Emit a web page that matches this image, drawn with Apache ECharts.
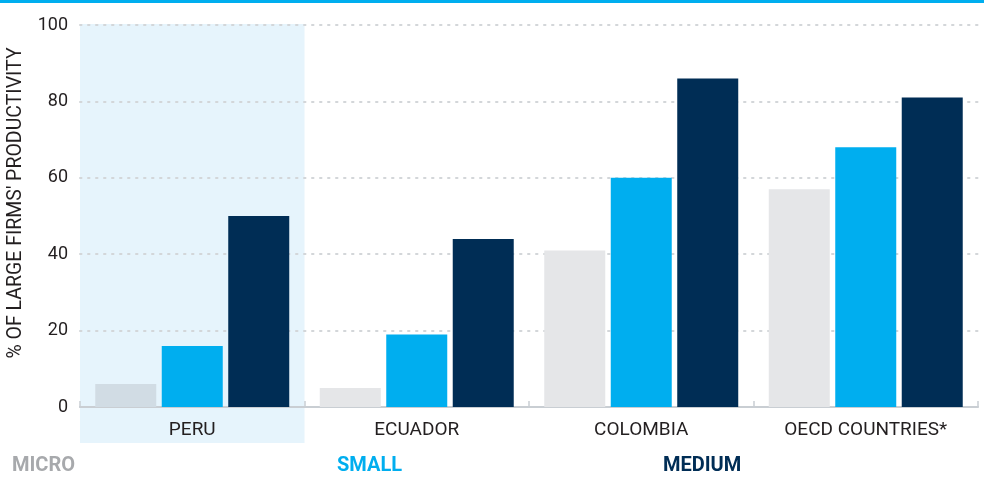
<!DOCTYPE html>
<html>
<head>
<meta charset="utf-8">
<script src="https://cdn.jsdelivr.net/npm/echarts@6/dist/echarts.min.js"></script>
<style>
html,body{margin:0;padding:0;background:#fff;}
#chart{width:984px;height:480px;}
</style>
</head>
<body>
<div id="chart"></div>
<script>
var categories = ['PERU', 'ECUADOR', 'COLOMBIA', 'OECD COUNTRIES*'];
var microValues = [6, 5, 41, 57];
var smallValues = [16, 19, 60, 68];
var mediumValues = [50, 44, 86, 81];
var yTicks = [0, 20, 40, 60, 80, 100];

var FONT = "Roboto, 'Noto Sans', sans-serif";
var C_MICRO = '#E5E6E8', C_MICRO_HL = '#D1DCE4', C_SMALL = '#00AEEF', C_MED = '#002D55';

var chart = echarts.init(document.getElementById('chart'), null, {renderer: 'canvas'});

function legendAt(left, name, color) {
  return {
    left: left, top: 456, icon: 'none', itemWidth: 0, itemHeight: 0, itemGap: 0,
    selectedMode: false, padding: 0,
    data: [{name: name, textStyle: {color: color}}],
    textStyle: {fontFamily: FONT, fontSize: 20, fontWeight: 'bold', padding: 0}
  };
}

var option = {
  animation: false,
  backgroundColor: '#fff',
  grid: {left: 80, right: 6, top: 25, bottom: 73, containLabel: false, outerBoundsMode: 'none'},
  xAxis: {
    type: 'category',
    data: categories,
    axisLine: {show: true, lineStyle: {color: '#C9CED3', width: 2}},
    axisTick: {show: true, inside: true, length: 6, lineStyle: {color: '#C9CED3', width: 1.5}},
    axisLabel: {interval: 0, fontFamily: FONT, fontSize: 19, color: '#231F20', margin: 14}
  },
  yAxis: {
    type: 'value', min: 0, max: 100, interval: 20,
    name: "% OF LARGE FIRMS' PRODUCTIVITY",
    nameLocation: 'middle', nameGap: 54,
    nameTextStyle: {fontFamily: FONT, fontSize: 19.5, color: '#231F20', padding: [0, 0, 0, 26]},
    axisLine: {show: false}, axisTick: {show: false},
    axisLabel: {fontFamily: FONT, fontSize: 18, color: '#231F20', margin: 12,
      formatter: function (v) { return yTicks.indexOf(v) >= 0 ? String(v) : ''; }},
    splitLine: {show: true, lineStyle: {color: '#D3D6D9', width: 2, type: [1.5, 6.5], cap: 'round'}}
  },
  legend: [
    legendAt(7, 'MICRO', '#A7A9AC'),
    legendAt(332, 'SMALL', C_SMALL),
    legendAt(658, 'MEDIUM', C_MED)
  ],
  series: [
    {name: 'MICRO', type: 'bar', barWidth: 61, barGap: '9%',
     itemStyle: {color: C_MICRO},
     data: microValues.map(function (v, i) { return i === 0 ? {value: v, itemStyle: {color: C_MICRO_HL}} : v; })},
    {name: 'SMALL', type: 'bar', barWidth: 61, barGap: '9%', itemStyle: {color: C_SMALL}, data: smallValues},
    {name: 'MEDIUM', type: 'bar', barWidth: 61, barGap: '9%', itemStyle: {color: C_MED}, data: mediumValues}
  ]
};
chart.setOption(option);

// decorations: top rule and highlight band behind the first category
var rect = chart.getModel().getComponent('grid').coordinateSystem.getRect();
var band = rect.width / categories.length;
chart.setOption({
  graphic: [
    {type: 'rect', silent: true, z: -10, shape: {x: 0, y: 0, width: 984, height: 3}, style: {fill: '#00AEEF'}},
    {type: 'rect', silent: true, z: -10,
     shape: {x: rect.x, y: rect.y - 1, width: band, height: rect.height + 37},
     style: {fill: '#E6F4FC'}}
  ]
});
</script>
</body>
</html>
